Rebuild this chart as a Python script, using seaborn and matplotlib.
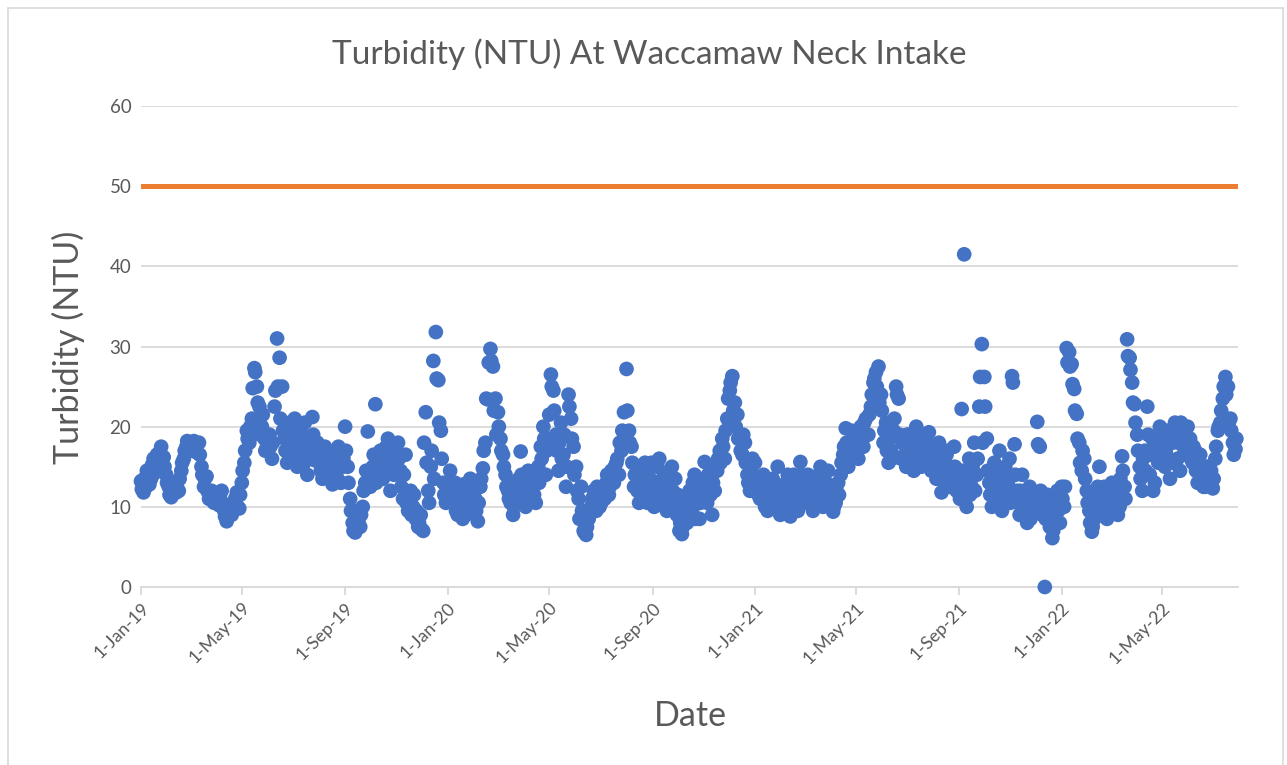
import matplotlib
matplotlib.use("Agg")
import pandas as pd
import matplotlib.pyplot as plt
import matplotlib.dates as mdates
from matplotlib.ticker import FuncFormatter
from matplotlib.lines import Line2D
import seaborn as sns

# ---------------- data (NTU) ----------------
# readings "a": every 3 days from 1 Jan; readings "b": every 3 days from 2 Jan
turb_2019_a = [
    13.2, 11.8, 12.5, 14.0, 13.5, 16.0, 14.8, 15.5, 17.5, 16.2, 14.0,   # Jan
    12.5, 11.2, 13.0, 11.8, 12.0, 14.5, 16.0, 17.5, 18.0,               # Feb
    17.0, 18.2, 16.8, 18.0, 15.0, 12.5, 13.8, 11.0, 12.0, 10.5,         # Mar
    11.5, 10.2, 12.0, 9.5, 8.2, 10.0, 9.0, 10.5, 11.8, 9.8,             # Apr
    13.0, 15.5, 19.5, 18.0, 21.0, 27.3, 25.0, 22.5, 20.0, 18.5, 17.5,   # May
    19.0, 16.0, 22.5, 31.0, 28.6, 25.0, 18.5, 15.5, 20.5, 16.5,         # Jun
    21.0, 15.0, 18.0, 16.5, 20.5, 14.0, 17.5, 21.2, 15.8, 18.0,         # Jul
    16.0, 13.5, 17.5, 14.0, 15.5, 12.8, 17.0, 13.5, 16.5, 15.0,         # Aug
    20.0, 15.0, 11.0, 8.0, 6.8, 9.5, 7.5, 10.0, 13.0, 19.4,             # Sep
    12.5, 15.0, 22.8, 14.0, 17.0, 13.5, 16.0, 18.5, 12.0, 15.5, 17.0,   # Oct
    18.0, 14.5, 11.0, 16.5, 9.5, 12.0, 10.0, 8.5, 7.5, 9.0,             # Nov
    7.0, 21.8, 12.0, 15.0, 28.2, 31.8, 25.8, 19.5, 13.0, 10.5,          # Dec
]
turb_2019_b = [
    12.2, 13.5, 14.5, 12.8, 15.2, 14.2, 16.5, 16.8, 16.0, 15.0, 13.0,   # Jan
    11.5, 12.0, 12.2, 13.0, 13.5, 15.5, 17.0, 18.2, 17.2,               # Feb
    18.0, 17.5, 17.8, 16.5, 14.0, 13.5, 12.0, 11.8, 10.8, 11.2,         # Mar
    10.8, 11.5, 10.5, 8.8, 9.0, 9.5, 10.2, 11.0, 10.0, 11.5,            # Apr
    14.5, 17.0, 18.5, 20.0, 24.8, 26.8, 23.0, 19.0, 21.5, 17.0, 18.8,   # May
    17.5, 18.0, 24.5, 25.0, 21.0, 19.5, 17.0, 19.0, 17.8, 19.5,         # Jun
    18.5, 16.5, 19.5, 15.2, 17.0, 18.5, 16.0, 19.0, 17.2, 16.5,         # Jul
    14.5, 16.8, 15.0, 16.2, 13.5, 15.8, 14.5, 17.5, 13.0, 16.0,         # Aug
    17.0, 13.0, 9.5, 7.0, 8.5, 8.0, 9.0, 12.0, 14.5, 13.5,              # Sep
    14.0, 16.5, 13.0, 15.5, 16.0, 14.8, 17.5, 15.0, 16.8, 14.0, 15.8,   # Oct
    16.0, 12.5, 14.0, 10.5, 11.0, 9.0, 11.5, 9.5, 8.0, 7.2,             # Nov
    18.0, 15.5, 10.5, 17.0, 13.5, 26.0, 20.5, 16.0, 11.5, 12.0,         # Dec
]
turb_2020_a = [
    12.0, 14.5, 10.5, 13.0, 9.0, 11.5, 8.5, 12.5, 10.0, 13.5, 9.5,      # Jan
    11.0, 8.2, 12.5, 14.8, 18.0, 23.4, 29.7, 27.5, 23.5,                # Feb
    21.8, 18.5, 16.5, 14.0, 12.0, 10.5, 9.0, 13.0, 11.5, 16.9,          # Mar
    12.0, 10.0, 14.5, 11.0, 13.0, 10.5, 15.0, 17.5, 20.0, 14.0,         # Apr
    18.5, 26.5, 24.5, 19.0, 14.5, 20.5, 16.5, 12.5, 24.0, 21.0, 17.5,   # May
    15.0, 11.0, 12.5, 7.0, 6.5, 8.5, 10.0, 12.0, 9.5, 11.5,             # Jun
    10.5, 12.0, 13.0, 11.5, 14.5, 13.0, 15.5, 14.0, 17.0, 21.8,         # Jul
    27.2, 19.5, 17.5, 12.5, 15.0, 10.5, 13.5, 11.0, 14.0, 12.0,         # Aug
    15.5, 10.0, 13.0, 16.0, 11.5, 14.0, 9.5, 12.5, 15.0, 10.5,          # Sep
    9.0, 7.0, 6.6, 10.5, 8.0, 12.0, 9.5, 14.0, 11.0, 8.5, 13.0,         # Oct
    15.6, 10.5, 13.5, 9.0, 12.0, 14.5, 17.0, 18.5, 16.0, 21.0,          # Nov
    24.5, 26.3, 23.0, 21.5, 19.0, 16.5, 18.0, 14.0, 12.0, 16.0,         # Dec
]
turb_2020_b = [
    13.0, 11.5, 12.0, 9.5, 11.0, 10.0, 12.8, 9.0, 11.8, 10.5, 12.0,     # Jan
    9.5, 10.5, 13.5, 17.0, 23.5, 28.0, 28.2, 22.0, 19.0,                # Feb
    20.0, 17.0, 15.0, 12.5, 11.0, 11.8, 10.0, 11.5, 13.5, 14.0,         # Mar
    11.0, 12.5, 12.0, 13.5, 11.5, 14.0, 13.0, 16.0, 18.5, 17.0,         # Apr
    21.5, 25.0, 22.0, 17.0, 18.0, 16.0, 19.0, 15.0, 22.5, 18.5, 14.0,   # May
    12.0, 8.5, 9.5, 6.8, 7.5, 9.5, 11.0, 10.5, 12.5, 10.0,              # Jun
    12.5, 11.0, 14.0, 12.5, 13.5, 15.0, 16.0, 18.0, 19.5, 17.5,         # Jul
    22.0, 18.0, 15.5, 14.0, 12.0, 13.0, 12.0, 15.5, 10.5, 13.5,         # Aug
    13.0, 11.5, 15.0, 12.5, 13.5, 10.5, 11.8, 14.0, 12.0, 13.5,         # Sep
    11.5, 8.0, 7.5, 9.0, 11.0, 10.0, 13.0, 8.5, 12.5, 10.5, 11.5,       # Oct
    12.5, 14.0, 11.5, 13.0, 15.0, 16.0, 15.5, 17.5, 19.5, 23.5,         # Nov
    25.5, 22.0, 20.0, 18.5, 17.0, 19.0, 15.5, 13.0, 14.5, 12.5,         # Dec
]
turb_2021_a = [
    15.5, 13.0, 11.0, 12.5, 10.0, 9.5, 12.0, 13.5, 11.0, 15.0, 9.0,     # Jan
    12.5, 10.0, 14.0, 8.8, 11.5, 13.0, 9.5, 15.6, 12.0,                 # Feb
    10.5, 14.0, 12.0, 9.5, 13.5, 11.0, 15.0, 10.0, 12.5, 14.5,          # Mar
    11.5, 9.4, 10.5, 13.0, 14.0, 16.5, 19.8, 15.0, 18.0, 17.0,          # Apr
    18.5, 16.0, 20.0, 17.5, 21.0, 19.0, 22.5, 25.5, 26.8, 27.5, 24.0,   # May
    18.0, 20.5, 15.5, 17.0, 19.5, 25.0, 23.5, 16.0, 18.5, 15.0,         # Jun
    19.0, 16.5, 14.5, 20.0, 17.5, 15.0, 18.0, 16.0, 19.3, 14.5,         # Jul
    17.0, 13.5, 18.0, 11.8, 15.0, 16.5, 12.5, 14.0, 17.5, 12.0,         # Aug
    13.0, 22.2, 41.5, 10.0, 16.0, 12.5, 18.0, 14.0, 22.5, 30.3,         # Sep
    26.2, 18.5, 13.0, 10.0, 15.5, 12.0, 17.0, 9.5, 14.0, 11.5, 16.0,    # Oct
    26.3, 17.8, 12.0, 9.0, 14.0, 10.5, 8.0, 12.5, 9.5, 11.0,            # Nov
    20.6, 17.5, 9.0, 0.0, 11.5, 7.5, 6.1, 9.0, 12.0, 8.0,               # Dec
]
turb_2021_b = [
    13.5, 11.5, 12.0, 14.0, 11.0, 10.5, 13.0, 10.5, 12.5, 10.0, 12.0,   # Jan
    11.0, 13.0, 10.5, 12.0, 14.0, 10.5, 12.5, 14.0, 13.0,               # Feb
    12.0, 11.0, 13.0, 11.5, 10.5, 14.0, 12.0, 11.5, 13.0, 10.5,         # Mar
    12.5, 10.0, 12.0, 11.5, 15.5, 17.5, 18.0, 16.5, 19.5, 18.5,         # Apr
    17.0, 19.5, 18.0, 20.5, 19.0, 21.5, 24.0, 26.0, 25.0, 23.0, 22.0,   # May
    19.5, 17.0, 18.5, 16.0, 21.0, 24.0, 19.0, 18.0, 16.5, 19.0,         # Jun
    17.0, 18.5, 16.0, 17.5, 15.5, 19.0, 16.5, 18.0, 15.5, 17.5,         # Jul
    15.5, 16.0, 14.5, 16.5, 13.0, 17.0, 15.0, 13.5, 15.0, 14.0,         # Aug
    11.0, 14.5, 12.0, 13.5, 11.5, 15.0, 12.0, 16.0, 26.2, 18.0,         # Sep
    22.5, 14.5, 11.5, 13.5, 12.0, 14.0, 10.5, 12.5, 15.0, 13.0, 10.5,   # Oct
    25.5, 14.0, 10.5, 12.0, 11.0, 9.5, 10.0, 8.5, 11.5, 10.0,           # Nov
    17.8, 12.0, 10.5, 8.5, 9.5, 8.0, 7.0, 10.5, 9.5, 11.0,              # Dec
]
turb_2022_a = [
    12.5, 10.0, 29.8, 29.3, 27.8, 24.7, 21.6, 18.0, 14.5, 16.0, 12.0,   # Jan
    9.5, 6.9, 8.5, 11.0, 15.0, 9.0, 12.5, 8.5, 10.5,                    # Feb
    13.0, 9.5, 12.0, 10.0, 16.3, 12.5, 30.9, 28.6, 25.5, 22.8,          # Mar
    19.0, 15.0, 12.0, 17.0, 22.5, 14.0, 18.5, 13.0, 16.5, 20.0,         # Apr
    17.5, 15.0, 19.5, 13.5, 18.0, 20.5, 16.0, 14.5, 19.0, 17.0, 20.0,   # May
    18.5, 15.5, 17.0, 13.0, 16.5, 14.0, 12.5, 15.0, 13.5, 12.3,         # Jun
    16.0, 19.5, 20.5, 23.5, 26.2, 25.0, 21.0, 18.0, 17.2,               # Jul
]
turb_2022_b = [
    11.0, 12.5, 28.0, 27.5, 25.3, 22.0, 18.5, 15.5, 17.0, 13.5, 10.5,   # Jan
    8.0, 7.5, 10.0, 12.5, 10.5, 11.5, 9.5, 11.0, 9.0,                   # Feb
    11.0, 12.5, 9.0, 13.5, 14.5, 11.0, 28.8, 27.1, 23.0, 20.5,          # Mar
    17.0, 13.5, 16.0, 14.5, 19.0, 16.5, 12.0, 17.5, 15.5, 18.5,         # Apr
    19.0, 17.0, 16.0, 18.5, 15.5, 19.5, 18.0, 20.5, 16.5, 18.5, 16.5,   # May
    16.0, 17.5, 14.5, 15.5, 13.5, 12.5, 15.0, 13.0, 14.5, 13.5,         # Jun
    17.5, 20.0, 22.0, 25.0, 24.0, 20.5, 19.5, 16.5, 18.5,               # Jul
]
year_starts = ["2019-01-01", "2020-01-01", "2021-01-01", "2022-01-01"]

limit_dates = ["2019-01-01", "2022-07-30"]
limit_values = [50, 50]

y_ticks = [0, 10, 20, 30, 40, 50, 60]

# ---------------- build frames ----------------
frames = []
series_a = [turb_2019_a, turb_2020_a, turb_2021_a, turb_2022_a]
series_b = [turb_2019_b, turb_2020_b, turb_2021_b, turb_2022_b]
for start, va, vb in zip(year_starts, series_a, series_b):
    t0 = pd.Timestamp(start)
    frames.append(pd.DataFrame({"Date": pd.date_range(t0, periods=len(va), freq="3D"),
                                "Turbidity": va}))
    frames.append(pd.DataFrame({"Date": pd.date_range(t0 + pd.Timedelta(days=1),
                                                      periods=len(vb), freq="3D"),
                                "Turbidity": vb}))
df = pd.concat(frames, ignore_index=True).sort_values("Date")
limit_df = pd.DataFrame({"Date": pd.to_datetime(limit_dates), "Limit": limit_values})

# ---------------- style ----------------
sns.set_theme(style="white")
plt.rcParams["font.family"] = ["Lato", "DejaVu Sans"]
text_col = "#595959"
grid_col = "#D9D9D9"

fig = plt.figure(figsize=(12.87, 7.65), dpi=100)
ax = fig.add_axes([141 / 1287, 1 - 587 / 765, (1238 - 141) / 1287, (587 - 106) / 765])

sns.scatterplot(data=df, x="Date", y="Turbidity", ax=ax, s=112, color="#4472C4",
                edgecolor="none", linewidth=0, zorder=3, clip_on=False)
sns.lineplot(data=limit_df, x="Date", y="Limit", ax=ax, color="#ED7D31",
             linewidth=3.6, zorder=4)

ax.set_xlim(pd.Timestamp(limit_dates[0]), pd.Timestamp(limit_dates[1]))
ax.set_ylim(0, 60)
ax.set_yticks(y_ticks)

ax.xaxis.set_major_locator(mdates.MonthLocator(bymonth=[1, 5, 9], bymonthday=1))
ax.xaxis.set_major_formatter(FuncFormatter(
    lambda v, p: (lambda d: f"{d.day}-{d:%b-%y}")(mdates.num2date(v))))

ax.yaxis.grid(True, color=grid_col, linewidth=1.3)
ax.xaxis.grid(False)
ax.set_axisbelow(True)
for s in ["top", "right", "left"]:
    ax.spines[s].set_visible(False)
ax.spines["bottom"].set_color(grid_col)
ax.spines["bottom"].set_linewidth(1.3)

ax.tick_params(axis="x", which="major", length=6, width=1.3, color=grid_col,
               direction="out", bottom=True, pad=3, labelsize=12.8, labelcolor=text_col)
ax.tick_params(axis="y", length=0, pad=7, labelsize=13.5, labelcolor=text_col)
for lab in ax.get_xticklabels():
    lab.set_rotation(45)
    lab.set_ha("right")
    lab.set_rotation_mode("anchor")

ax.set_xlabel("")
ax.set_ylabel("")
fig.text(649 / 1287, 1 - 54 / 765, "Turbidity (NTU) At Waccamaw Neck Intake",
         ha="center", va="center", fontsize=24, color=text_col)
fig.text(68 / 1287, 1 - 347 / 765, "Turbidity (NTU)", rotation=90,
         ha="center", va="center", fontsize=24.5, color=text_col)
fig.text(690 / 1287, 1 - 716 / 765, "Date", ha="center", va="center",
         fontsize=24.5, color=text_col)

# chart frame
for xs, ys in [([8, 8], [8, 765]), ([8, 1283], [8, 8]), ([1283, 1283], [8, 765])]:
    fig.add_artist(Line2D([x / 1287 for x in xs], [1 - y / 765 for y in ys],
                          color=grid_col, linewidth=1.2, transform=fig.transFigure))

fig.savefig("out.png", dpi=100, facecolor="white")
